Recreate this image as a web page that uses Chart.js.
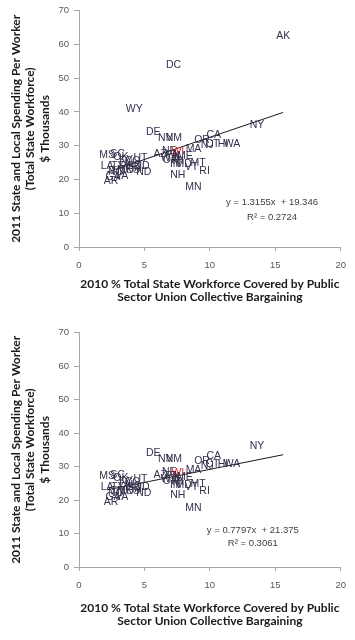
<!DOCTYPE html>
<html><head><meta charset="utf-8">
<script src="https://cdn.jsdelivr.net/npm/chart.js@4"></script>
<style>
html,body{margin:0;padding:0;background:#fff;width:355px;height:640px;overflow:hidden}
.wrap{position:absolute;left:0;width:355px;height:320px}
canvas{display:block}
</style></head><body>
<div class="wrap" style="top:0"><canvas id="c1" width="355" height="320"></canvas></div>
<div class="wrap" style="top:322px"><canvas id="c2" width="355" height="318"></canvas></div>
<script>
// ---- data ----
const states = ['AK','DC','WY','DE','NV','NM','CA','OR','NJ','CT','HI','WA','NY','MA','NE','WI','AZ','ME','PA','IL','OH','IN','MD','MI','WV','VT','MT','RI','NH','MN',
                'MS','SC','OK','KY','CO','UT','LA','TX','FL','SD','ID','AL','TN','MO','KS','IA','ND','NC','GA','VA','AR'];
const unionPct = [15.6,7.23,4.22,5.68,6.6,7.25,10.3,9.4,9.8,10.2,11.0,11.7,13.6,8.75,6.9,7.55,6.2,8.1,7.1,7.6,7.0,7.35,8.0,7.6,6.9,8.6,9.1,9.6,7.55,8.75,
                  2.15,2.95,3.2,3.6,4.1,4.7,2.15,2.95,3.5,4.2,5.0,3.9,2.95,3.55,4.1,4.4,4.95,2.8,2.6,3.25,2.45];
const spending = [62.5,53.9,40.8,34.0,32.3,32.3,33.2,31.7,30.1,30.6,30.6,30.6,36.2,29.0,28.4,28.2,27.5,26.9,27.3,26.5,25.6,24.6,24.5,25.5,26.2,23.8,24.8,22.6,21.4,17.7,
                  27.2,27.4,26.5,25.6,25.3,26.2,24.0,24.0,23.9,24.0,24.0,24.5,22.6,22.7,22.8,23.4,22.1,22.2,20.8,20.9,19.4];
const omittedBottom = ['AK','DC','WY'];
const trendX = [2.13, 15.6];
const trendTopY = [22.15, 39.87];
const trendBottomY = [23.04, 33.54];
const eqTop = ['y = 1.3155x  + 19.346', 'R\u00B2 = 0.2724'];
const eqBottom = ['y = 0.7797x  + 21.375', 'R\u00B2 = 0.3061'];
const xTitle = ['2010 % Total State Workforce Covered by Public', 'Sector Union Collective Bargaining'];
const yTitle = ['2011 State and Local Spending Per Worker', '(Total State Workforce)', '$ Thousands'];

// ---- plugins ----
const labelPlugin = {
  id: 'stateLabels',
  afterDatasetsDraw(chart) {
    const meta = chart.getDatasetMeta(0);
    const names = chart.data.datasets[0].stateNames;
    const ctx = chart.ctx;
    ctx.save();
    ctx.font = '10.5px "Liberation Sans"';
    ctx.textAlign = 'center';
    ctx.textBaseline = 'middle';
    meta.data.forEach((pt, i) => {
      ctx.fillStyle = names[i] === 'WI' ? '#e0202a' : '#34304c';
      ctx.fillText(names[i], pt.x, pt.y);
    });
    ctx.restore();
  }
};
const eqPlugin = {
  id: 'eqText',
  afterDraw(chart, args, opts) {
    const xs = chart.scales.x, ys = chart.scales.y, ctx = chart.ctx;
    ctx.save();
    ctx.font = '9.5px "Liberation Sans"';
    ctx.fillStyle = '#404040';
    ctx.textAlign = 'center';
    ctx.textBaseline = 'middle';
    ctx.fillText(opts.lines[0], xs.getPixelForValue(opts.pos[0]), ys.getPixelForValue(opts.pos[1]));
    ctx.fillText(opts.lines[1], xs.getPixelForValue(opts.pos[0]), ys.getPixelForValue(opts.pos[2]));
    ctx.restore();
  }
};

function makeChart(id, keep, trendY, eqLines, eqPos, xTitleBottomPad) {
  const pts = [], names = [];
  states.forEach((s, i) => { if (keep(s)) { pts.push({x: unionPct[i], y: spending[i]}); names.push(s); } });
  const trend = trendX.map((x, i) => ({x: x, y: trendY[i]}));
  return new Chart(document.getElementById(id), {
    type: 'scatter',
    data: { datasets: [
      { data: pts, stateNames: names, pointRadius: 0, pointHoverRadius: 0 },
      { data: trend, showLine: true, borderColor: '#1a1a1a', borderWidth: 1, pointRadius: 0, fill: false }
    ]},
    options: {
      responsive: false, animation: false, events: [],
      layout: { padding: { top: 7, right: 11, left: 0, bottom: 0 } },
      plugins: { legend: { display: false }, tooltip: { enabled: false },
                 eqText: { lines: eqLines, pos: eqPos } },
      scales: {
        x: {
          type: 'linear', min: 0, max: 20,
          ticks: { stepSize: 5, color: '#595959', font: { family: 'Liberation Sans', size: 9.5 }, padding: 9 },
          grid: { drawOnChartArea: false, color: '#a6a6a6', tickLength: 4 },
          border: { color: '#a6a6a6' },
          title: { display: true, text: xTitle, color: '#1a1a1a', font: { family: 'Lato', size: 12, weight: 'bold', lineHeight: 1.1 }, padding: { top: 0, bottom: xTitleBottomPad } },
          afterFit(s) { s.height = 73; }
        },
        y: {
          type: 'linear', min: 0, max: 70,
          ticks: { stepSize: 10, color: '#595959', font: { family: 'Liberation Sans', size: 9.5 }, padding: 5 },
          grid: { drawOnChartArea: false, color: '#a6a6a6', tickLength: 5 },
          border: { color: '#a6a6a6' },
          title: { display: true, text: yTitle, color: '#1a1a1a', font: { family: 'Lato', size: 12, weight: 'bold', lineHeight: 1.2 }, padding: { top: 8.8, bottom: 0 } },
          afterFit(s) { s.width = 79; }
        }
      }
    },
    plugins: [labelPlugin, eqPlugin]
  });
}

makeChart('c1', s => true, trendTopY, eqTop, [14.75, 13.1, 8.75], 16.5);
makeChart('c2', s => omittedBottom.indexOf(s) < 0, trendBottomY, eqBottom, [13.28, 10.9, 7.0], 12.5);
</script>
</body></html>
